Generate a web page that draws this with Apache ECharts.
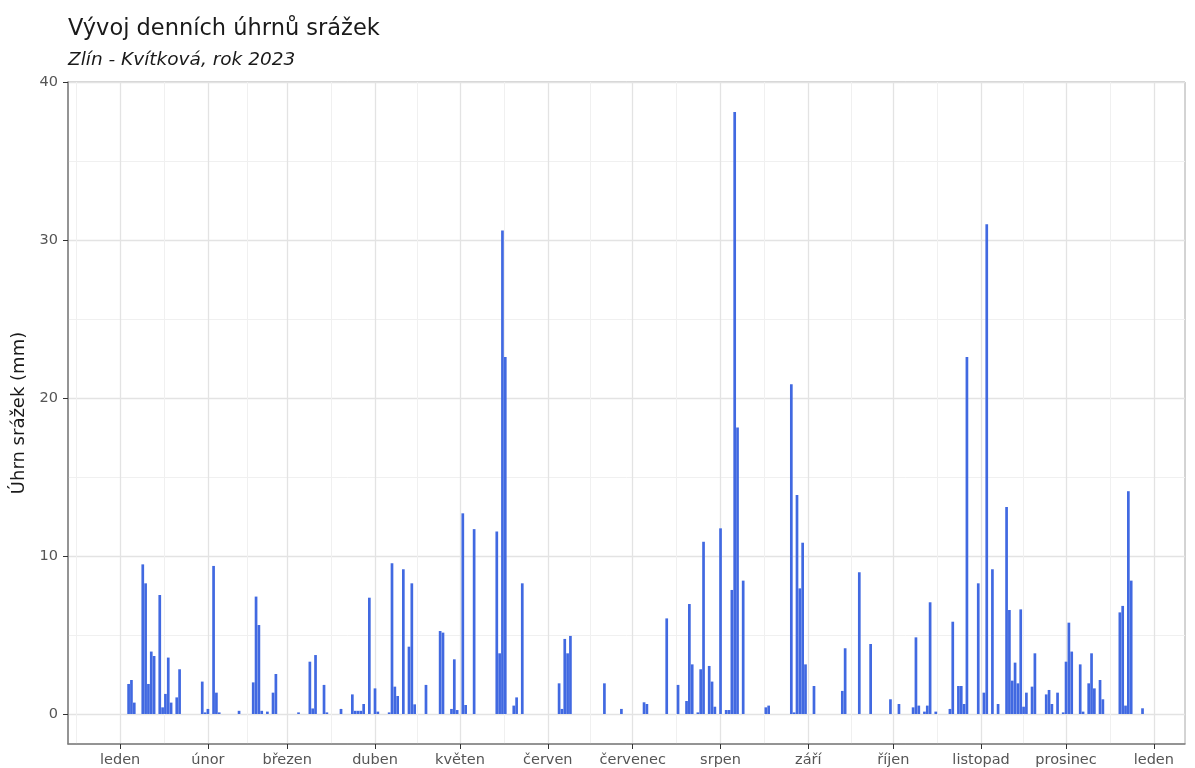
<!DOCTYPE html>
<html>
<head>
<meta charset="utf-8">
<title>Vývoj denních úhrnů srážek</title>
<script src="https://cdn.jsdelivr.net/npm/echarts@6/dist/echarts.min.js"></script>
<style>
  html, body { margin: 0; padding: 0; background: #fff; }
  #main { width: 1195px; height: 768px; }
</style>
</head>
<body>
<div id="main"></div>
<script>
// den v roce (0 = 1. ledna 2023) a denni uhrn srazek v mm
var rainDays = [3, 4, 5, 8, 9, 10, 11, 12, 14, 15, 16, 17, 18, 20, 21, 29, 30, 31, 33, 34, 35,
  42, 47, 48, 49, 50, 52, 54, 55, 63, 67, 68, 69, 72, 73, 78, 82, 83, 84, 85, 86, 88,
  90, 91, 95, 96, 97, 98, 100, 102, 103, 104, 108, 113, 114, 117, 118, 119,
  121, 122, 125, 133, 134, 135, 136, 139, 140, 142, 155, 156, 157, 158, 159, 171, 177,
  185, 186, 193, 197, 200, 201, 202, 204, 205, 206, 208, 209, 210, 212, 214, 215, 216, 217, 218, 220, 228, 229,
  237, 238, 239, 240, 241, 242, 245, 255, 256, 261, 265, 272, 275, 280, 281, 282, 284, 285, 286, 288, 293, 294,
  296, 297, 298, 299, 303, 305, 306, 308, 310, 313, 314, 315, 316, 317, 318, 319, 320, 322, 323, 327, 328, 329,
  331, 333, 334, 335, 336, 339, 340, 342, 343, 344, 346, 347, 353, 354, 355, 356, 357, 361];
var rainMm = [1.9, 2.15, 0.72, 9.47, 8.27, 1.9, 3.95, 3.67, 7.53, 0.42, 1.27, 3.57, 0.72, 1.05, 2.83, 2.05, 0.1, 0.32, 9.37, 1.35, 0.1,
  0.2, 2.0, 7.43, 5.63, 0.2, 0.15, 1.35, 2.53, 0.1, 3.31, 0.35, 3.73, 1.84, 0.1, 0.32, 1.24, 0.2, 0.2, 0.2, 0.63, 7.36,
  1.62, 0.15, 0.1, 9.54, 1.73, 1.14, 9.16, 4.26, 8.27, 0.61, 1.84, 5.25, 5.15, 0.32, 3.46, 0.25,
  12.7, 0.57, 11.7, 11.55, 3.84, 30.6, 22.6, 0.53, 1.05, 8.27, 1.94, 0.32, 4.75, 3.84, 4.94, 1.94, 0.32,
  0.74, 0.63, 6.05, 1.84, 0.82, 6.96, 3.14, 0.1, 2.83, 10.9, 3.04, 2.05, 0.46, 11.75, 0.25, 0.25, 7.85, 38.1, 18.14, 8.44, 0.42, 0.53,
  20.87, 0.1, 13.86, 7.95, 10.84, 3.14, 1.77, 1.46, 4.16, 8.97, 4.43, 0.93, 0.63, 0.42, 4.85, 0.53, 0.15, 0.53, 7.07, 0.15, 0.32, 5.84,
  1.77, 1.77, 0.63, 22.6, 8.27, 1.35, 31.0, 9.16, 0.63, 13.1, 6.58, 2.11, 3.25, 1.94, 6.62, 0.46, 1.35, 1.73, 3.84, 1.24, 1.52, 0.63,
  1.35, 0.1, 3.31, 5.78, 3.95, 3.14, 0.15, 1.94, 3.84, 1.62, 2.15, 0.93, 6.43, 6.84, 0.53, 14.1, 8.44, 0.36];

var monthStarts = [0, 31, 59, 90, 120, 151, 181, 212, 243, 273, 304, 334, 365];
var monthLabels = ['leden', 'únor', 'březen', 'duben', 'květen', 'červen', 'červenec',
  'srpen', 'září', 'říjen', 'listopad', 'prosinec', 'leden'];
var yTicks = [0, 10, 20, 30, 40];
var yMinorTicks = [5, 15, 25, 35];

// vedlejsi mrizka uprostred mezi zacatky mesicu
var midMonths = [-15.5];
for (var i = 1; i < monthStarts.length; i++) {
  midMonths.push((monthStarts[i - 1] + monthStarts[i]) / 2);
}

var barData = rainDays.map(function (d, i) { return [d, rainMm[i]]; });

var font = 'DejaVu Sans';
var xMin = -18.4, xMax = 376;
var yMin = -1.9, yMax = 40;

var chart = echarts.init(document.getElementById('main'));

var option = {
  animation: false,
  backgroundColor: '#ffffff',
  title: [
    {
      text: 'Vývoj denních úhrnů srážek',
      left: 63, top: 13,
      textStyle: { fontFamily: font, fontSize: 22.5, fontWeight: 'normal', color: '#1a1a1a' }
    },
    {
      text: 'Zlín - Kvítková, rok 2023',
      left: 63, top: 46,
      textStyle: { fontFamily: font, fontSize: 18.5, fontStyle: 'italic', fontWeight: 'normal', color: '#1a1a1a' }
    }
  ],
  grid: {
    left: 68, right: 10, top: 82, bottom: 24,
    show: true, borderColor: '#a8a8a8', borderWidth: 1,
    outerBoundsMode: 'none'
  },
  xAxis: [
    {
      type: 'value', min: xMin, max: xMax,
      axisLine: { show: true, onZero: false, lineStyle: { color: '#7f7f7f', width: 1.5 } },
      axisTick: { show: true, length: 5, customValues: monthStarts, lineStyle: { color: '#333' } },
      axisLabel: {
        customValues: monthStarts, margin: 9,
        fontFamily: font, fontSize: 14.5, color: '#555555',
        formatter: function (v) { return monthLabels[monthStarts.indexOf(v)]; }
      },
      splitLine: { show: true, lineStyle: { color: '#e3e3e3', width: 1.3 } }
    },
    {
      type: 'value', min: xMin, max: xMax, position: 'top',
      axisLine: { show: false },
      axisTick: { show: false, customValues: midMonths },
      axisLabel: { show: false, customValues: midMonths },
      splitLine: { show: true, lineStyle: { color: '#f0f0f0', width: 1 } }
    }
  ],
  yAxis: [
    {
      type: 'value', min: yMin, max: yMax,
      name: 'Úhrn srážek (mm)', nameLocation: 'middle', nameGap: 31,
      nameTextStyle: { fontFamily: font, fontSize: 18, color: '#1a1a1a' },
      axisLine: { show: true, onZero: false, lineStyle: { color: '#7f7f7f', width: 1.5 } },
      axisTick: { show: true, length: 5, customValues: yTicks, lineStyle: { color: '#333' } },
      axisLabel: { customValues: yTicks, margin: 10, fontFamily: font, fontSize: 14.5, color: '#555555' },
      splitLine: { show: true, lineStyle: { color: '#e3e3e3', width: 1.3 } }
    },
    {
      type: 'value', min: yMin, max: yMax, position: 'right',
      axisLine: { show: false },
      axisTick: { show: false, customValues: yMinorTicks },
      axisLabel: { show: false, customValues: yMinorTicks },
      splitLine: { show: true, lineStyle: { color: '#f0f0f0', width: 1 } }
    }
  ],
  series: [
    {
      type: 'bar',
      xAxisIndex: 0, yAxisIndex: 0,
      data: barData,
      barWidth: 2.7,
      itemStyle: { color: '#4169E1' }
    }
  ]
};

chart.setOption(option);
</script>
</body>
</html>
